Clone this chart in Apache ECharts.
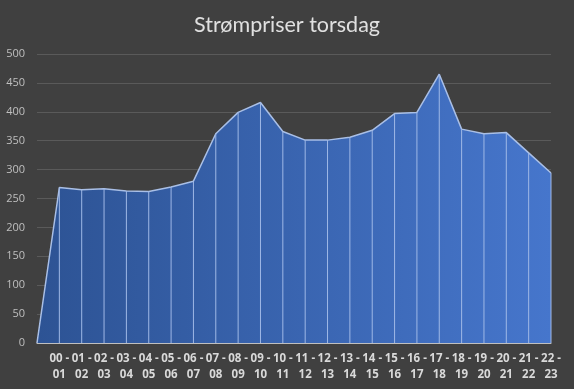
<!DOCTYPE html>
<html>
<head>
<meta charset="utf-8">
<script src="https://cdn.jsdelivr.net/npm/echarts@6/dist/echarts.min.js"></script>
<style>html,body{margin:0;padding:0;background:#404040;}#c{width:574px;height:389px;}</style>
</head>
<body>
<div id="c"></div>
<script>
const title = 'Strømpriser torsdag';
const categories = ['', '00 - 01', '01 - 02', '02 - 03', '03 - 04', '04 - 05', '05 - 06', '06 - 07', '07 - 08', '08 - 09', '09 - 10', '10 - 11', '11 - 12', '12 - 13', '13 - 14', '14 - 15', '15 - 16', '16 - 17', '17 - 18', '18 - 19', '19 - 20', '20 - 21', '21 - 22', '22 - 23'];
const prices = [0, 269, 265, 267, 263, 262, 270, 280, 362, 399, 416, 366, 351, 351, 356, 368, 397, 399, 465, 370, 362, 364, 329, 294];
const yTicks = [0, 500, 50];

const chart = echarts.init(document.getElementById('c'), null, {renderer: 'canvas'});
chart.setOption({
  backgroundColor: '#404040',
  animation: false,
  title: {
    text: title, left: 'center', top: 9,
    textStyle: {color: '#e0e0e0', fontSize: 21.5, fontWeight: 'normal', fontFamily: 'Lato'}
  },
  grid: {left: 37, right: 23, top: 54, bottom: 46},
  xAxis: {
    type: 'category', data: categories, boundaryGap: false,
    axisLine: {lineStyle: {color: '#bfbfbf', width: 1}},
    axisTick: {show: false},
    axisLabel: {
      color: '#d9d9d9', fontSize: 11.5, fontWeight: 'bold', fontFamily: 'Open Sans',
      interval: 0, margin: 8, lineHeight: 15.5,
      formatter: v => v.replace(' - ', ' -\n')
    },
    splitLine: {show: false}
  },
  yAxis: {
    type: 'value', min: yTicks[0], max: yTicks[1], interval: yTicks[2],
    axisLine: {show: false}, axisTick: {show: false},
    axisLabel: {color: '#bfbfbf', fontSize: 11, fontFamily: 'Open Sans', margin: 12},
    splitLine: {lineStyle: {color: '#5a5a5a', width: 1}}
  },
  series: [
    {
      type: 'line', data: prices, symbol: 'none', z: 2,
      lineStyle: {color: '#a9bfe6', width: 1.5},
      areaStyle: {
        opacity: 1,
        color: new echarts.graphic.LinearGradient(0, 0, 1, 0, [
          {offset: 0, color: '#2d5394'},
          {offset: 1, color: '#4676cc'}
        ])
      }
    },
    {
      type: 'bar', data: prices, barWidth: 1, z: 3,
      itemStyle: {color: '#9fb8e6'}
    }
  ]
});
</script>
</body>
</html>
